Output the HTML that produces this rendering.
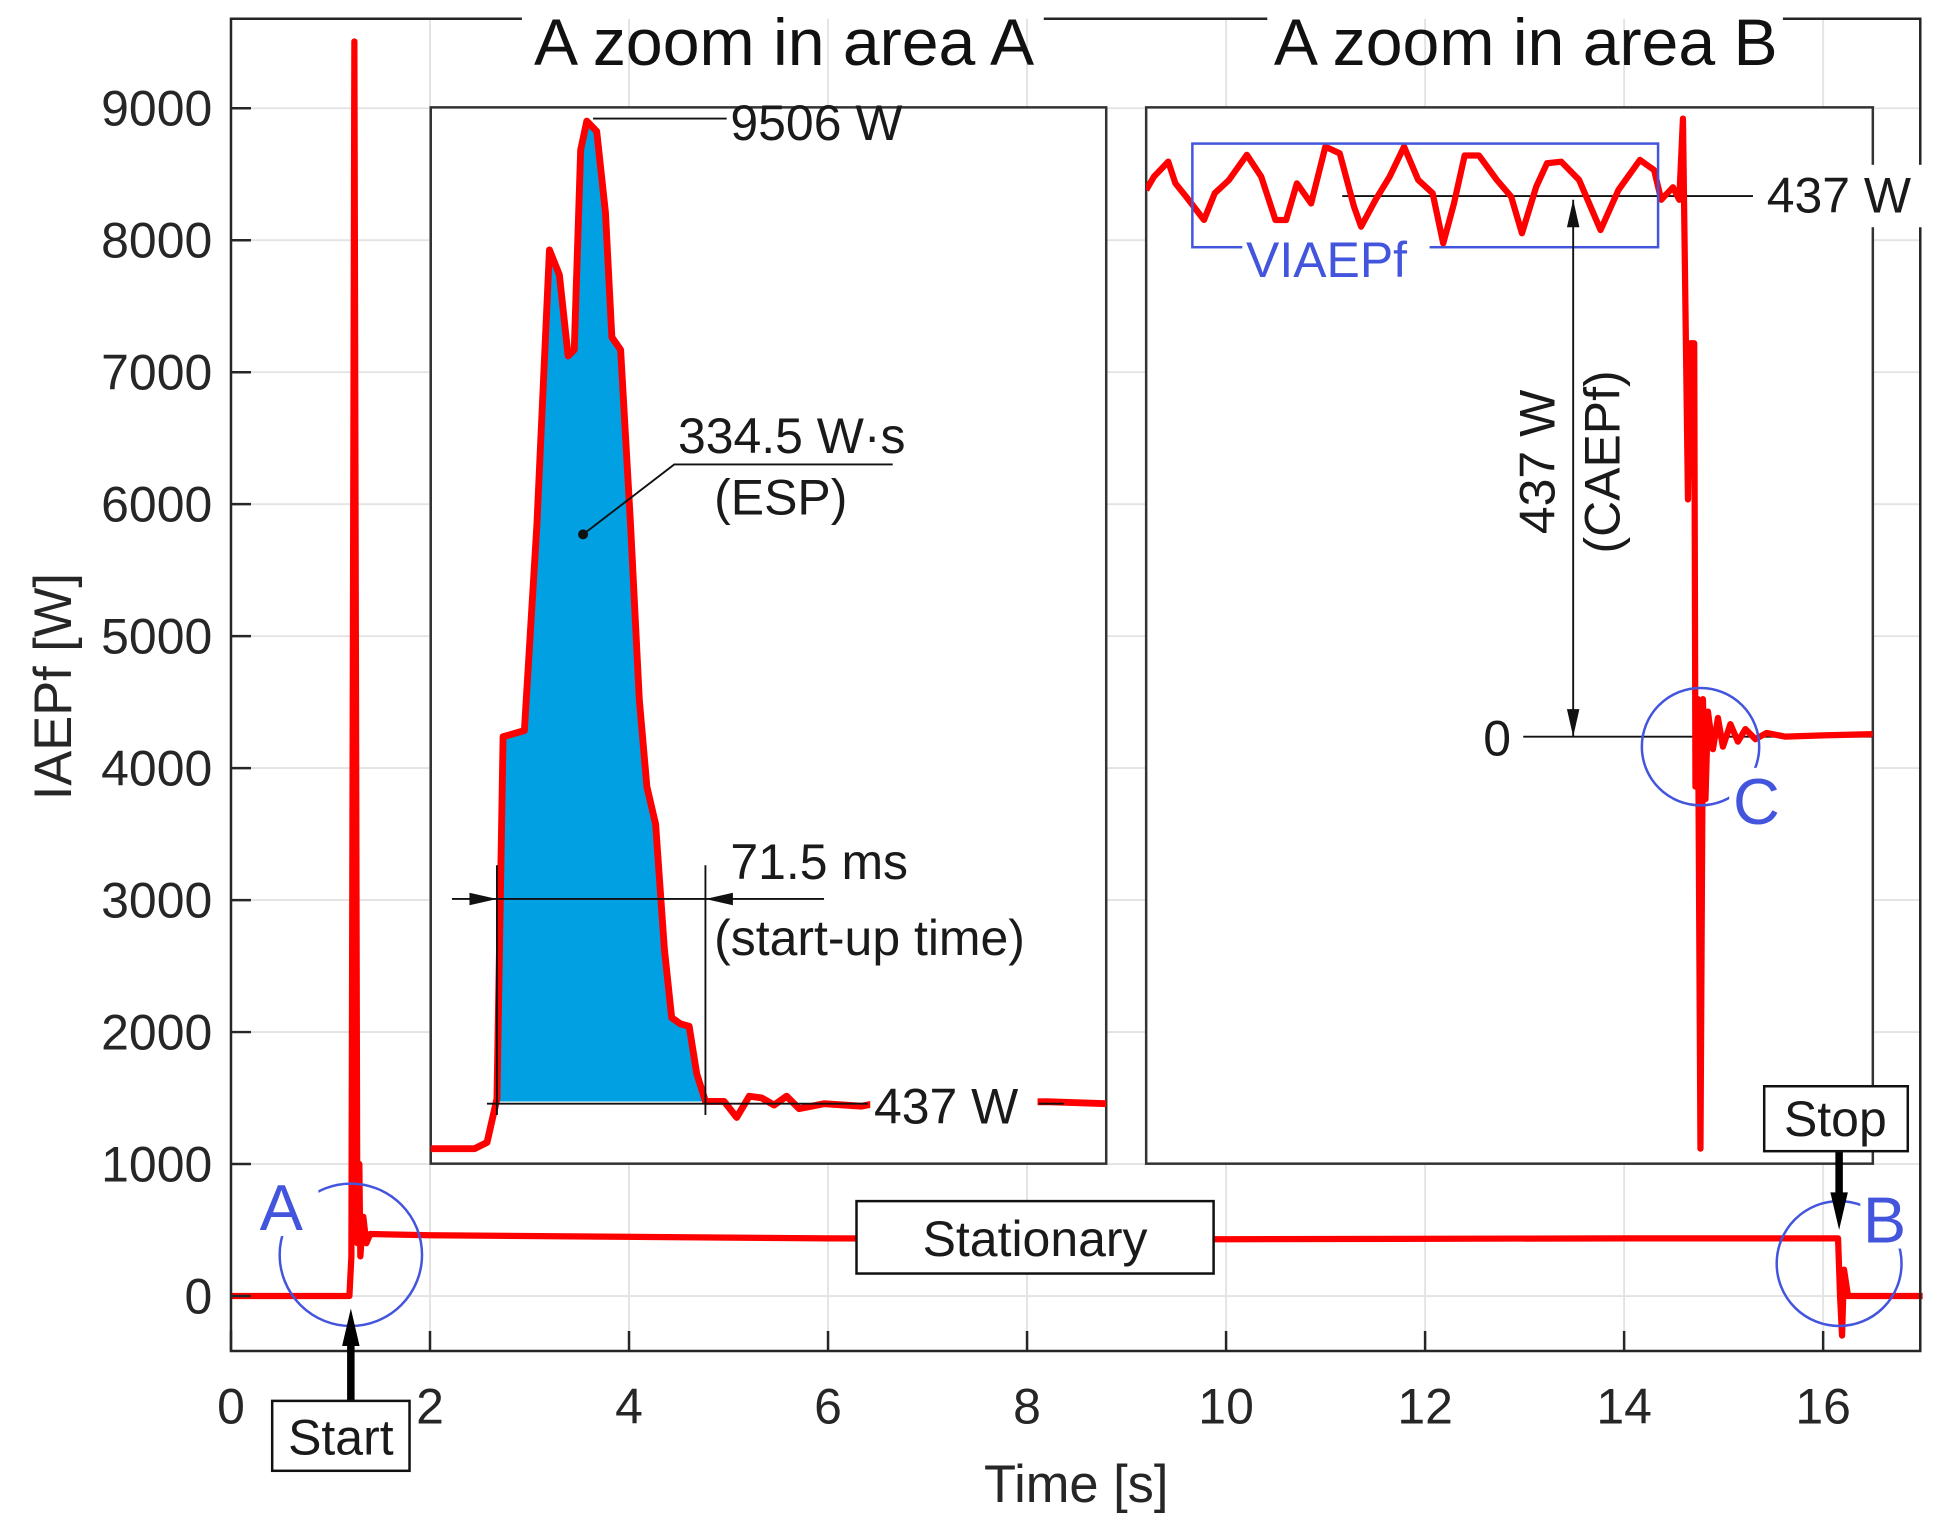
<!DOCTYPE html>
<html><head><meta charset="utf-8"><style>
html,body{margin:0;padding:0;background:#fff;}
svg{display:block;font-family:"Liberation Sans",Arial,sans-serif;}
</style></head><body>
<svg id="chart" width="1939" height="1520" viewBox="0 0 1553 1217.4" preserveAspectRatio="none" xmlns="http://www.w3.org/2000/svg">
<g id="grid"></g>
<g id="mainPlot"></g>
<g id="axes"></g>
</svg>
<script>
// Main series: time [s], IAEPf [W]
const mainT=[0,1.19,1.21,1.24,1.27,1.29,1.3,1.33,1.36,1.4,2,6,10,14,16.15,16.17,16.19,16.21,16.25,17];
const mainV=[0,0,300,9506,400,1000,300,600,400,470,460,437,430,437,437,0,-300,200,0,0];
const xTicks=[0,2,4,6,8,10,12,14,16];
const yTicks=[0,1000,2000,3000,4000,5000,6000,7000,8000,9000];
// Inset A: time [ms], power [W]
const insetAT=[0,15,19.3,22.7,24.8,27.8,32.1,36.4,40.7,44.1,47.1,49.2,51.4,53.5,56.9,59.9,62.1,65.1,68.5,71.5,74.1,77.1,80.1,82.6,85.6,88.6,91.2,94.2,100.6,104.9,109.2,113.4,117.7,122,126.3,134.8,147.7,152,211,231.6];
const insetAV=[0,0,58,462,3811,3834,3868,5774,8314,8083,7333,7390,9238,9506,9411,8660,7506,7390,5774,4157,3349,3002,1848,1212,1155,1132,693,437,437,289,485,470,404,485,370,416,393,416,435,416];
// Inset B: time [ms], power [W]
const insetBT=[0,10.7,30.4,40.2,55,79.6,94.4,114,138.6,158.3,177.9,192.6,207.4,227,246.6,266.4,286,295.8,315.5,335.1,354.9,374.4,394.2,408.8,423.6,438.3,458,482.6,502.3,517.1,536.8,551.6,571.2,595.8,625.3,649.9,679.5,699,708.8,725,733.6,738.7,745.6,749,754.2,755.9,759.4,762.8,766.2,769.7,773.1,780,786.8,793.7,804,814.3,824.6,838.4,853.8,879.6,931.2,1000];
const insetBV=[441.8,452.6,464.7,447.2,436.4,417.6,439.2,449.9,470.2,452.6,417.6,417.6,447.2,430.9,476.8,471.4,428.3,412.2,433.7,452.6,476.8,449.9,439.2,398.7,430.9,469.7,469.7,449.9,436.4,406.8,444.5,463.4,464.7,449.9,409.5,441.8,466.1,457.9,433.9,444,433.9,499.5,191.7,317.9,317.9,-40.4,30.3,-333,30.3,-50.5,20.2,-10.1,15.1,-8.1,10.1,-4,6.1,-2,3,0,1,2];

const NS="http://www.w3.org/2000/svg";
const X=t=>185+t*79.7, Y=v=>1038-v*0.1057;
const XA=t=>345+t*2.336, YA=v=>920-v*0.08658;
const XB=t=>918+t*0.582, YB=v=>590-v*0.991;
const svg=document.getElementById('chart');
function mk(tag,attrs,parent){const e=document.createElementNS(NS,tag);for(const k in attrs)e.setAttribute(k,attrs[k]);(parent||svg).appendChild(e);return e;}
function txt(s,x,y,size,opts,parent){const e=mk('text',Object.assign({x:x,y:y,'font-size':size,fill:'#1a1a1a'},opts||{}),parent);e.textContent=s;return e;}

const grid=document.getElementById('grid');
xTicks.forEach(t=>{const l=mk('line',{x1:X(t),x2:X(t),y1:15,y2:1082,stroke:'#e3e3e3','stroke-width':1.5},grid);

});
yTicks.forEach(v=>{const l=mk('line',{x1:185,x2:1538,y1:Y(v),y2:Y(v),stroke:'#e3e3e3','stroke-width':1.5},grid);

});

const mp=document.getElementById('mainPlot');
const mainLine=mk('polyline',{points:mainT.map((t,i)=>X(t)+','+Y(mainV[i])).join(' '),fill:'none',stroke:'#ff0000','stroke-width':5,'stroke-linejoin':'round'},mp);



const ax=document.getElementById('axes');
mk('polyline',{points:'418,15 185,15 185,1082 1538,1082 1538,15 1428,15',fill:'none',stroke:'#262626','stroke-width':2},ax);
mk('line',{x1:836,x2:1015,y1:15,y2:15,stroke:'#262626','stroke-width':2},ax);
xTicks.forEach(t=>{mk('line',{x1:X(t),x2:X(t),y1:1082,y2:1066,stroke:'#262626','stroke-width':2},ax);
const e=txt(String(t),X(t),1140,40,{'text-anchor':'middle',fill:'#262626'},ax);

});
yTicks.forEach(v=>{mk('line',{x1:185,x2:201,y1:Y(v),y2:Y(v),stroke:'#262626','stroke-width':2},ax);
const e=txt(String(v),170,Y(v)+14,40,{'text-anchor':'end',fill:'#262626'},ax);

});
const xt=txt('Time [s]',862,1203,42,{'text-anchor':'middle',fill:'#262626'},ax);

const yt=txt('IAEPf [W]',0,0,42,{'text-anchor':'middle',fill:'#262626',transform:'translate(57,550) rotate(-90)'},ax);

const t1=txt('A zoom in area A',628,52,53,{'text-anchor':'middle',fill:'#111'},ax);

const t2=txt('A zoom in area B',1222,52,53,{'text-anchor':'middle',fill:'#111'},ax);


// Insets
const defs=mk('defs',{});
const cA=mk('clipPath',{id:'clipA'},defs);mk('rect',{x:345,y:86,width:541,height:846},cA);
const cB=mk('clipPath',{id:'clipB'},defs);mk('rect',{x:918,y:86,width:582,height:846},cB);
const gA=mk('g',{});
mk('rect',{x:345,y:86,width:541,height:846,fill:'#fff',stroke:'#333','stroke-width':2},gA);
const gAc=mk('g',{'clip-path':'url(#clipA)'},gA);
let ap=[];insetAT.forEach((t,i)=>{if(t>=22.7&&t<=94.2)ap.push(XA(t)+','+YA(insetAV[i]));});
ap.push(XA(94.2)+','+YA(437));ap.push(XA(22.7)+','+YA(437));
const area=mk('polygon',{points:ap.join(' '),fill:'#00a0e3'},gAc);

const la=mk('polyline',{points:insetAT.map((t,i)=>XA(t)+','+YA(insetAV[i])).join(' '),fill:'none',stroke:'#ff0000','stroke-width':5.5,'stroke-linejoin':'round'},gAc);

mk('line',{x1:475,y1:95,x2:582,y2:95,stroke:'#111','stroke-width':1.5},gA);
txt('9506 W',585,112,40,{},gA);
txt('334.5 W·s',543,363,40,{},gA);txt('(ESP)',572,412,40,{},gA);
mk('polyline',{points:'715,372 540,372 467,428',fill:'none',stroke:'#111','stroke-width':1.5},gA);
mk('circle',{cx:467,cy:428,r:4,fill:'#111'},gA);
mk('line',{x1:398,y1:693,x2:398,y2:893,stroke:'#111','stroke-width':1.5},gA);
mk('line',{x1:565,y1:693,x2:565,y2:893,stroke:'#111','stroke-width':1.5},gA);
mk('line',{x1:362,y1:720,x2:660,y2:720,stroke:'#111','stroke-width':1.5},gA);
mk('polygon',{points:'398,720 376,715 376,725',fill:'#111'},gA);
mk('polygon',{points:'565,720 587,715 587,725',fill:'#111'},gA);
txt('71.5 ms',585,704,40,{},gA);txt('(start-up time)',572,765,40,{},gA);
mk('line',{x1:390,y1:884,x2:695,y2:884,stroke:'#111','stroke-width':1.5},gA);
mk('rect',{x:697,y:862,width:134,height:40,fill:'#fff'},gA);
mk('line',{x1:832,y1:884,x2:852,y2:884,stroke:'#111','stroke-width':1.5},gA);
txt('437 W',700,900,40,{},gA);

const gB=mk('g',{});
mk('rect',{x:918,y:86,width:582,height:846,fill:'#fff',stroke:'#333','stroke-width':2},gB);
mk('line',{x1:1075,y1:157,x2:1410,y2:157,stroke:'#111','stroke-width':1.5},gB);
mk('line',{x1:1220,y1:590,x2:1500,y2:590,stroke:'#111','stroke-width':1.5},gB);
const gBc=mk('g',{'clip-path':'url(#clipB)'},gB);
const lb=mk('polyline',{points:insetBT.map((t,i)=>XB(t)+','+YB(insetBV[i])).join(' '),fill:'none',stroke:'#ff0000','stroke-width':5,'stroke-linejoin':'round'},gBc);

mk('rect',{x:1404,y:132,width:150,height:50,fill:'#fff'},gB);
txt('437 W',1415,170,40,{},gB);
mk('rect',{x:955,y:115,width:373,height:83,fill:'none',stroke:'#4455dd','stroke-width':2},gB);
mk('rect',{x:995,y:190,width:150,height:40,fill:'#fff'},gB);
const vi=txt('VIAEPf',998,222,40,{fill:'#4455dd'},gB);

mk('line',{x1:1260,y1:160,x2:1260,y2:590,stroke:'#111','stroke-width':1.5},gB);
mk('polygon',{points:'1260,160 1255,182 1265,182',fill:'#111'},gB);
mk('polygon',{points:'1260,590 1255,568 1265,568',fill:'#111'},gB);
txt('437 W',0,0,40,{'text-anchor':'middle',transform:'translate(1245,370) rotate(-90)'},gB);
txt('(CAEPf)',0,0,40,{'text-anchor':'middle',transform:'translate(1297,370) rotate(-90)'},gB);
txt('0',1188,605,40,{},gB);
mk('circle',{cx:1362,cy:598,r:47,fill:'none',stroke:'#4455dd','stroke-width':2},gB);
mk('rect',{x:1385,y:615,width:50,height:50,fill:'#fff'},gB);
txt('C',1388,660,52,{fill:'#4455dd'},gB);

const g=mk('g',{});
mk('ellipse',{cx:281,cy:1005,rx:57,ry:57,fill:'none',stroke:'#4455dd','stroke-width':2},g);
mk('rect',{x:205,y:945,width:50,height:45,fill:'#fff'},g);
txt('A',208,985,52,{fill:'#4455dd'},g);
mk('circle',{cx:1473,cy:1012,r:50,fill:'none',stroke:'#4455dd','stroke-width':2},g);
mk('rect',{x:1490,y:955,width:45,height:45,fill:'#fff'},g);
txt('B',1492,995,52,{fill:'#4455dd'},g);
mk('line',{x1:281,y1:1122,x2:281,y2:1075,stroke:'#000','stroke-width':6},g);
mk('polygon',{points:'281,1048 274,1078 288,1078',fill:'#000'},g);
const sb=mk('rect',{x:218,y:1122,width:110,height:56,fill:'#fff',stroke:'#111','stroke-width':2},g);

txt('Start',273,1165,40,{'text-anchor':'middle'},g);
mk('line',{x1:1473,y1:922,x2:1473,y2:960,stroke:'#000','stroke-width':6},g);
mk('polygon',{points:'1473,985 1466,955 1480,955',fill:'#000'},g);
const stb=mk('rect',{x:1413,y:870,width:115,height:52,fill:'#fff',stroke:'#111','stroke-width':2},g);

txt('Stop',1470,910,40,{'text-anchor':'middle'},g);
const stat=mk('rect',{x:686,y:962,width:286,height:58,fill:'#fff',stroke:'#111','stroke-width':2},g);

txt('Stationary',829,1006,40,{'text-anchor':'middle'},g);
</script>
</body></html>
